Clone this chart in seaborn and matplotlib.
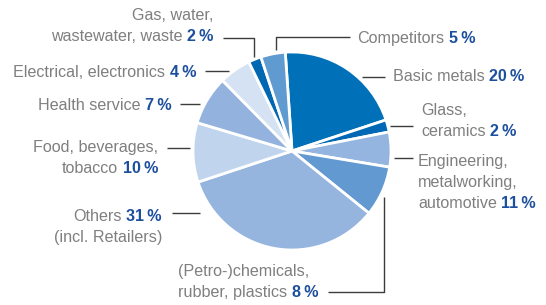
import matplotlib
matplotlib.use("Agg")
import matplotlib.pyplot as plt
import seaborn as sns

# -----------------------------
# DATA
# -----------------------------
sectors = [
    "Basic metals",
    "Glass,\nceramics",
    "Engineering,\nmetalworking,\nautomotive",
    "(Petro-)chemicals,\nrubber, plastics",
    "Others",
    "Food, beverages,\ntobacco",
    "Health service",
    "Electrical, electronics",
    "Gas, water,\nwastewater, waste",
    "Competitors",
]
notes = ["", "", "", "", "(incl. Retailers)", "", "", "", "", ""]
# percentages printed in the labels
shares = [20, 2, 11, 8, 31, 10, 7, 4, 2, 5]
# wedge sizes as they are drawn in the reference pie
wedge_sizes = [21.0, 2.0, 5.7, 8.2, 34.1, 9.7, 8.0, 5.2, 2.1, 4.0]

colors = ["#0070b8", "#0068b4", "#94b5df", "#6199d0", "#95b5df",
          "#c1d4ee", "#93b3de", "#d4e2f3", "#0067b2", "#5f9ad0"]

# label placement in pixel coords (x, first baseline, alignment, leader line)
layout = [
    (393, 81, "left", [(362, 77), (385, 77)]),
    (421, 115, "left", [(390, 126), (413, 126)]),
    (418, 166, "left", [(394, 158), (413, 158)]),
    (178, 276, "left", [(384, 197), (384, 292), (328, 292)]),
    (162, 221, "right", [(172, 213), (200, 213)]),
    (158, 152, "right", [(167, 148), (190, 148)]),
    (172, 110, "right", [(180, 104), (200, 104)]),
    (196, 77, "right", [(205, 71), (229, 71)]),
    (213, 20, "right", [(223, 38), (254, 38), (254, 57)]),
    (357, 43, "left", [(276, 50), (276, 37), (350, 37)]),
]

W, H = 546, 305
LINE_STEP = 21
TEXT_GREY = "#7f7f7f"
PCT_BLUE = "#1d4f9f"
LEADER = "#3c3c3c"

sns.set_theme(style="white")
plt.rcParams["font.family"] = ["Liberation Sans", "DejaVu Sans"]

fig = plt.figure(figsize=(W / 100, H / 100), dpi=100)
ax = fig.add_axes([0, 0, 1, 1])

# y axis is inverted below, so counterclock=True reads clockwise on screen
ax.pie(wedge_sizes, colors=colors, center=(292, 151), radius=99,
       startangle=-93.9, counterclock=True,
       wedgeprops={"edgecolor": "white", "linewidth": 2})

ax.set_xlim(0, W)
ax.set_ylim(H, 0)
ax.set_aspect("equal")
ax.axis("off")

FS = 11.6
for name, note, pct, (x, y0, ha, leader) in zip(sectors, notes, shares, layout):
    lines = name.split("\n")
    pct_txt = f"{pct}\u2009%"
    # plain lines above the one carrying the percentage
    for i, line in enumerate(lines[:-1]):
        ax.text(x, y0 + i * LINE_STEP, line, ha=ha, va="baseline",
                fontsize=FS, color=TEXT_GREY)
    yl = y0 + (len(lines) - 1) * LINE_STEP
    if ha == "right":
        p = ax.text(x, yl, pct_txt, ha="right", va="baseline", fontsize=FS,
                    color=PCT_BLUE, fontweight="bold")
        ax.annotate(lines[-1], xy=(0, 0), xycoords=p, xytext=(-3.2, 0),
                    textcoords="offset points", ha="right", va="bottom",
                    fontsize=FS, color=TEXT_GREY)
    else:
        t = ax.text(x, yl, lines[-1], ha="left", va="baseline", fontsize=FS,
                    color=TEXT_GREY)
        ax.annotate(pct_txt, xy=(1, 0), xycoords=t, xytext=(3.2, 0),
                    textcoords="offset points", ha="left", va="bottom",
                    fontsize=FS, color=PCT_BLUE, fontweight="bold")
    if note:
        ax.text(x, yl + LINE_STEP, note, ha=ha, va="baseline",
                fontsize=FS, color=TEXT_GREY)
    xs, ys = zip(*leader)
    ax.plot(xs, ys, color=LEADER, lw=1.0, solid_capstyle="butt")

fig.savefig("out.png", dpi=100)
